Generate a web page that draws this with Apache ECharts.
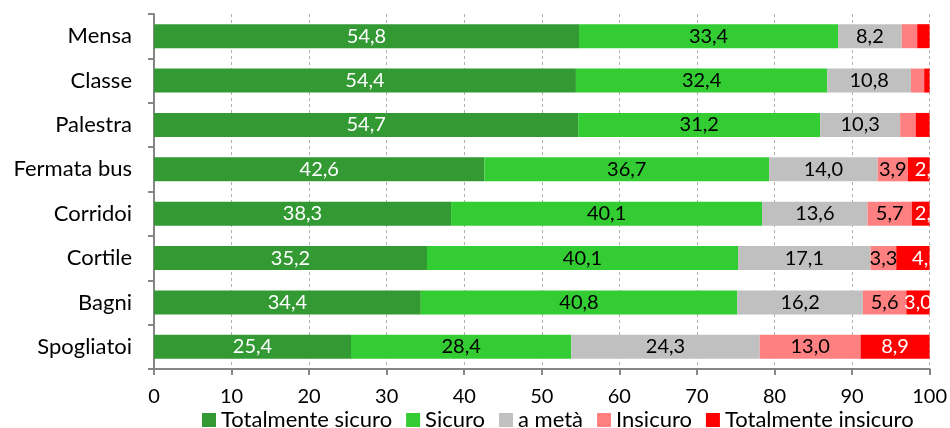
<!DOCTYPE html>
<html>
<head>
<meta charset="utf-8">
<script src="https://cdn.jsdelivr.net/npm/echarts@6/dist/echarts.min.js"></script>
<style>
  html, body { margin: 0; padding: 0; background: #fff; }
  #chart { width: 950px; height: 428px; }
</style>
</head>
<body>
<div id="chart"></div>
<script>
// Luoghi della scuola e percezione di sicurezza (%)
const categories = ['Mensa', 'Classe', 'Palestra', 'Fermata bus', 'Corridoi', 'Cortile', 'Bagni', 'Spogliatoi'];
const seriesNames = ['Totalmente sicuro', 'Sicuro', 'a metà', 'Insicuro', 'Totalmente insicuro'];
const totalmenteSicuro   = [54.8, 54.4, 54.7, 42.6, 38.3, 35.2, 34.4, 25.4];
const sicuro             = [33.4, 32.4, 31.2, 36.7, 40.1, 40.1, 40.8, 28.4];
const aMeta              = [8.2, 10.8, 10.3, 14.0, 13.6, 17.1, 16.2, 24.3];
const insicuro           = [2.0, 1.7, 2.0, 3.9, 5.7, 3.3, 5.6, 13.0];
const totalmenteInsicuro = [1.6, 0.7, 1.8, 2.8, 2.3, 4.3, 3.0, 8.9];
const xTicks = [0, 10, 20, 30, 40, 50, 60, 70, 80, 90, 100];

const colors = ['#339933', '#33cc33', '#c0c0c0', '#ff8080', '#ff0000'];
const labelColors = ['#ffffff', '#000000', '#000000', '#000000', '#ffffff'];
const FONT = 'Lato';

const values = [totalmenteSicuro, sicuro, aMeta, insicuro, totalmenteInsicuro];

// Etichette spostate a destra per i segmenti rossi stretti (vengono tagliate al bordo)
const shiftedRed = { 3: 10, 4: 8, 5: 13 };

const series = seriesNames.map((name, s) => ({
  name: name,
  type: 'bar',
  stack: 'tot',
  barWidth: 24,
  itemStyle: { color: colors[s] },
  data: values[s].map((v, i) => {
    const item = { value: v };
    if (s === 4 && shiftedRed[i] !== undefined) {
      item.label = { offset: [shiftedRed[i], 0] };
    }
    return item;
  }),
  label: {
    show: true,
    position: 'inside',
    color: labelColors[s],
    fontFamily: FONT,
    fontSize: 20,
    formatter: p => (p.value < 2.2 ? '' : p.value.toFixed(1).replace('.', ','))
  }
}));

const chart = echarts.init(document.getElementById('chart'));
chart.setOption({
  animation: false,
  textStyle: { fontFamily: FONT },
  grid: { left: 154, right: 18, top: 14, bottom: 59 },
  legend: {
    data: seriesNames,
    top: 409,
    left: 202,
    padding: 0,
    itemWidth: 14,
    itemHeight: 14,
    itemGap: 14,
    icon: 'rect',
    textStyle: { fontFamily: FONT, fontSize: 22, color: '#000' }
  },
  xAxis: {
    type: 'value',
    min: xTicks[0],
    max: xTicks[xTicks.length - 1],
    interval: xTicks[1] - xTicks[0],
    axisLine: { show: true, lineStyle: { color: '#868686', width: 2 } },
    axisTick: { show: true, length: 6, lineStyle: { color: '#868686', width: 2 } },
    axisLabel: { fontFamily: FONT, fontSize: 20, color: '#000', margin: 18 },
    splitLine: { show: true, lineStyle: { color: '#b0b0b0', type: [3, 3], width: 1 } }
  },
  yAxis: {
    type: 'category',
    data: categories,
    inverse: true,
    axisLine: { show: true, lineStyle: { color: '#868686', width: 2 } },
    axisTick: { show: true, length: 6, lineStyle: { color: '#868686', width: 2 } },
    axisLabel: { fontFamily: FONT, fontSize: 22, color: '#000', margin: 22 }
  },
  series: series,
  graphic: [{
    type: 'rect',
    z: 100,
    shape: { x: 933, y: 14, width: 17, height: 352 },
    style: { fill: '#ffffff' }
  }]
});
</script>
</body>
</html>
